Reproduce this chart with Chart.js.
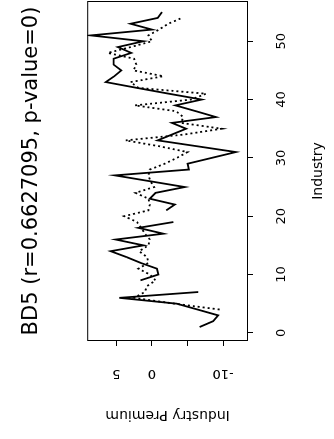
<!DOCTYPE html>
<html>
<head>
<meta charset="utf-8">
<script src="https://cdn.jsdelivr.net/npm/chart.js@4/dist/chart.umd.min.js"></script>
<style>
  html, body { margin: 0; padding: 0; background: #fff; overflow: hidden; }
  /* the reference is a scanned R plot turned on its side, so the chart is drawn upright and rotated */
  #rotated {
    position: absolute;
    left: 0;
    top: 0;
    width: 439px;
    height: 334px;
    transform-origin: 0 0;
    transform: translate(0, 439px) rotate(-90deg);
  }
</style>
</head>
<body>
<div id="rotated"><canvas id="chart" width="439" height="334"></canvas></div>
<script>
const chartTitle = "BD5 (r=0.6627095, p-value=0)";

const industries = [
    1, 2, 3, 4, 5, 6, 7, 8, 9, 10,
    11, 12, 13, 14, 15, 16, 17, 18, 19, 20,
    21, 22, 23, 24, 25, 26, 27, 28, 29, 30,
    31, 32, 33, 34, 35, 36, 37, 38, 39, 40,
    41, 42, 43, 44, 45, 46, 47, 48, 49, 50,
    51, 52, 53, 54, 55,
];

// solid line
const premium = [
    -6.7, -8.6, -9.3, -6.4, -3.5, 4.6, -6.5, null, 1.6, -0.9,
    -0.7, 1.6, 3.6, 5.8, 1.2, 5.1, -1.6, 1.9, -3.0, null,
    -2.0, -3.2, 0.3, -0.5, -4.6, 0.3, 5.2, -5.2, -5.0, -8.4,
    -11.8, -6.3, -0.8, -2.8, -4.8, -2.8, -9.0, -6.2, -3.3, -7.0,
    -2.4, 2.1, 6.5, 5.3, 4.3, 5.4, 5.4, 2.9, 4.8, 1.2,
    8.6, 0.0, 3.0, -0.8, -1.4,
];

// dotted line
const fitted = [
    null, null, null, -9.5, -3.2, 2.5, 1.0, 0.7, -0.5, 0.3,
    1.9, 0.5, 0.7, 1.8, 0.5, 0.3, 1.0, 1.5, 2.1, 3.9,
    0.5, 0.3, 0.5, 2.3, -0.3, 0.2, 0.5, 0.3, -1.8, -3.5,
    -5.0, -1.0, 3.7, -4.5, -9.8, -4.1, -4.4, -3.4, 2.4, -5.5,
    -7.6, 1.9, 3.0, -1.6, 2.6, 2.2, 2.5, 6.2, 3.0, 0.0,
    0.5, -1.0, -2.3, -4.2, null,
];

const industryTicks = [0, 10, 20, 30, 40, 50];
const premiumTicks = [-10, -5, 0, 5];
const premiumTickLabels = ["-10", "", "0", "5"];

Chart.defaults.font.family = "'DejaVu Sans', sans-serif";
Chart.defaults.color = "#000";

// R draws a full box round the plot region
const plotBoxPlugin = {
    id: "plotBoxPlugin",
    afterDraw: (chart) => {
        const ctx = chart.ctx;
        const area = chart.chartArea;
        ctx.save();
        ctx.strokeStyle = "#000";
        ctx.lineWidth = 1;
        ctx.strokeRect(area.left + 0.5, area.top + 0.5, area.width - 1, area.height - 1);
        ctx.restore();
    },
};

function toPoints(values) {
    return industries.map((x, i) => ({ x: x, y: values[i] }));
}

new Chart(document.getElementById("chart").getContext("2d"), {
    type: "line",
    data: {
        datasets: [
            {
                label: "Industry Premium",
                data: toPoints(premium),
                borderColor: "#000",
                borderWidth: 1.8,
                pointRadius: 0,
                tension: 0,
                fill: false,
            },
            {
                label: "Fitted",
                data: toPoints(fitted),
                borderColor: "#000",
                borderWidth: 1.8,
                borderDash: [2, 3],
                pointRadius: 0,
                tension: 0,
                fill: false,
            },
        ],
    },
    options: {
        responsive: false,
        animation: false,
        layout: {
            padding: { left: 0, right: 1, top: 0, bottom: 0 },
        },
        plugins: {
            legend: { display: false },
            tooltip: { enabled: false },
            title: {
                display: true,
                text: chartTitle,
                fullSize: false,
                color: "#000",
                font: { size: 21, weight: "normal" },
                padding: { top: 19, bottom: 43 },
            },
        },
        scales: {
            x: {
                type: "linear",
                min: -1.4,
                max: 56.9,
                afterBuildTicks: (scale) => {
                    scale.ticks = industryTicks.map((v) => ({ value: v }));
                },
                afterFit: (scale) => {
                    scale.height = 86;
                },
                border: { display: false },
                grid: {
                    drawOnChartArea: false,
                    drawTicks: true,
                    tickLength: 5,
                    color: "#000",
                },
                ticks: {
                    autoSkip: false,
                    maxRotation: 0,
                    padding: 21,
                    color: "#000",
                    font: { size: 13 },
                    callback: (v) => String(v),
                },
                title: {
                    display: true,
                    text: "Industry",
                    color: "#000",
                    font: { size: 14 },
                    padding: { top: 0, bottom: 7.6 },
                },
            },
            y: {
                type: "linear",
                min: -13.5,
                max: 9.1,
                afterBuildTicks: (scale) => {
                    scale.ticks = premiumTicks.map((v) => ({ value: v }));
                },
                afterFit: (scale) => {
                    scale.width = 98;
                },
                border: { display: false },
                grid: {
                    drawOnChartArea: false,
                    drawTicks: true,
                    tickLength: 5,
                    color: "#000",
                },
                ticks: {
                    autoSkip: false,
                    minRotation: 90,
                    maxRotation: 90,
                    crossAlign: "center",
                    padding: 16.4,
                    color: "#000",
                    font: { size: 13 },
                    callback: (v) => premiumTickLabels[premiumTicks.indexOf(v)],
                },
                title: {
                    display: true,
                    text: "Industry Premium",
                    color: "#000",
                    font: { size: 14 },
                    padding: { top: 15.6, bottom: 0 },
                },
            },
        },
    },
    plugins: [plotBoxPlugin],
});
</script>
</body>
</html>
